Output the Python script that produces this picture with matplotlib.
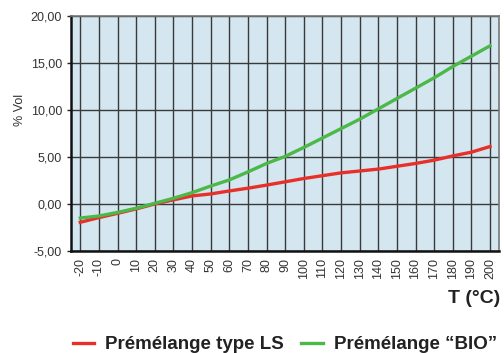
import matplotlib
matplotlib.use("Agg")
import matplotlib.pyplot as plt
from matplotlib.ticker import FuncFormatter

temps = list(range(-20, 201, 10))
ls_vol = [-1.95, -1.45, -1.0, -0.53, 0.0, 0.43, 0.85, 1.06, 1.38, 1.67, 2.0, 2.35,
          2.7, 3.0, 3.3, 3.5, 3.7, 4.0, 4.3, 4.65, 5.1, 5.5, 6.1]
bio_vol = [-1.5, -1.28, -0.9, -0.46, 0.07, 0.6, 1.2, 1.9, 2.55, 3.4, 4.3, 5.05,
           6.0, 7.0, 8.0, 9.0, 10.1, 11.2, 12.3, 13.4, 14.6, 15.7, 16.8]
y_ticks = [-5, 0, 5, 10, 15, 20]

red = "#e8302a"
green = "#4cb848"

plt.rcParams["font.family"] = ["Liberation Sans", "DejaVu Sans"]

fig = plt.figure(figsize=(5.04, 3.53), dpi=100)
ax = fig.add_axes([0.1409, 0.289, 0.8498, 0.6665])
ax.set_facecolor("#d4e6f0")

ax.plot(temps, ls_vol, color=red, lw=2.4, label="Prémélange type LS", zorder=3)
ax.plot(temps, bio_vol, color=green, lw=2.4, label="Prémélange \u201cBIO\u201d", zorder=3)

ax.set_xlim(-25, 205)
ax.set_ylim(-5, 20)
ax.set_xticks(temps)
ax.set_xticklabels([str(t) for t in temps], rotation=90, fontsize=9, color="#333333")
ax.set_yticks(y_ticks)
ax.yaxis.set_major_formatter(FuncFormatter(lambda v, p: f"{v:.2f}".replace(".", ",")))
ax.tick_params(axis="y", labelsize=9, labelcolor="#333333", length=3, width=1, color="#222222")
ax.tick_params(axis="x", length=0, pad=5)
ax.grid(True, color="#3a3a3a", lw=1.0, zorder=1)
ax.set_axisbelow(True)

for side in ("left", "bottom"):
    ax.spines[side].set_linewidth(1.8)
    ax.spines[side].set_color("#111111")
for side in ("top", "right"):
    ax.spines[side].set_linewidth(1.2)
    ax.spines[side].set_color("#777777")

ax.set_ylabel("% Vol", fontsize=9, color="#333333")
ax.yaxis.set_label_coords(-0.105, 0.6)
fig.text(0.993, 0.155, "T (°C)", ha="right", va="center", fontsize=14,
         fontweight="bold", color="#222222")

fig.legend(loc="center", bbox_to_anchor=(0.565, 0.023), ncol=2, frameon=False,
           prop={"weight": "bold", "size": 13.5}, handlelength=1.15,
           handletextpad=0.6, columnspacing=0.9, labelcolor="#222222")

fig.savefig("out.png", dpi=100)
